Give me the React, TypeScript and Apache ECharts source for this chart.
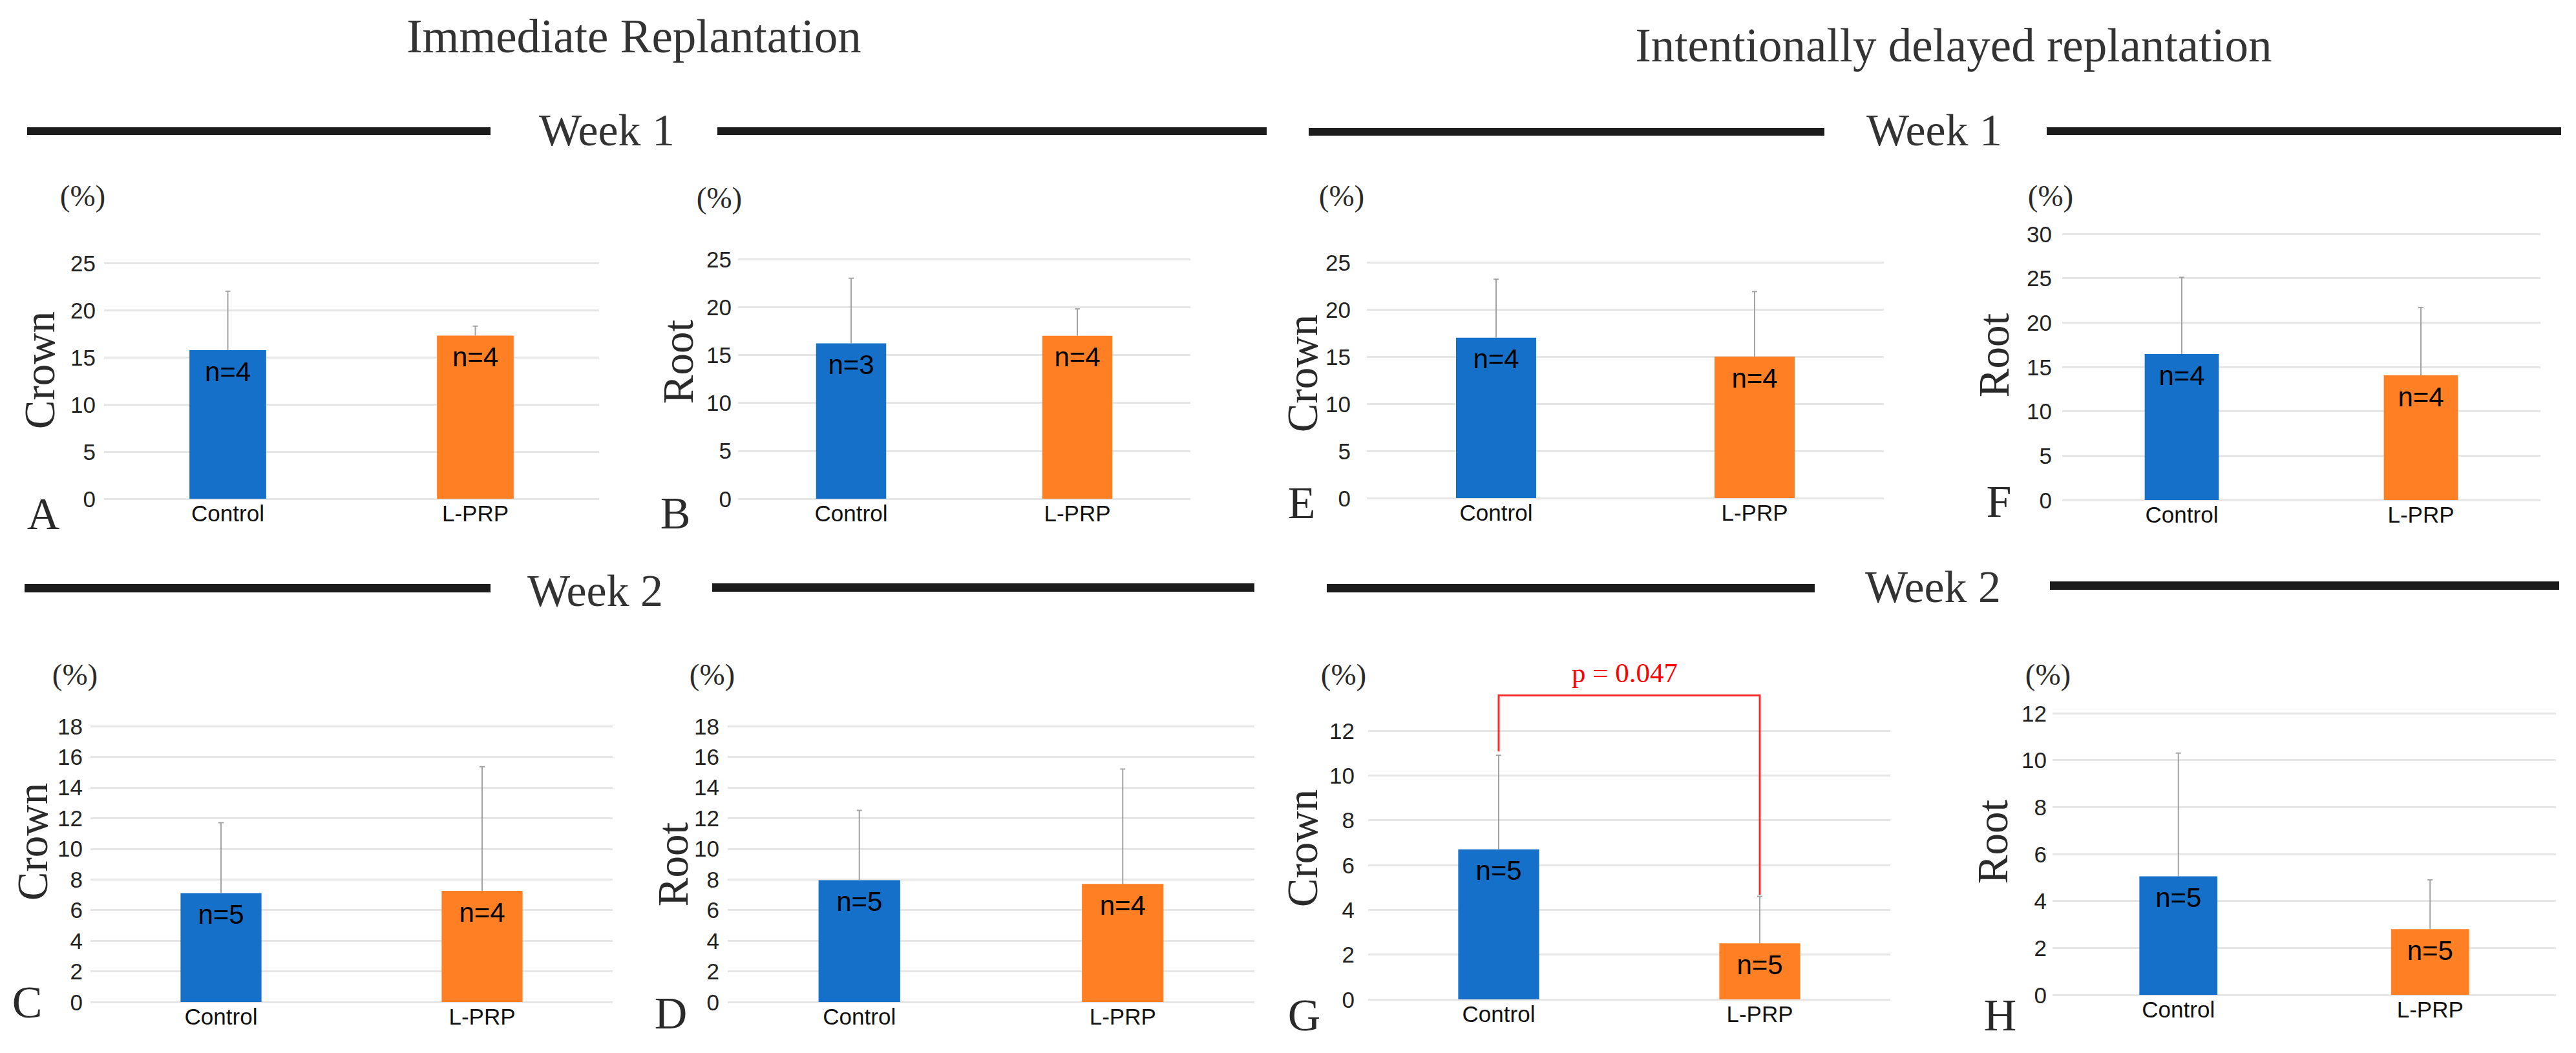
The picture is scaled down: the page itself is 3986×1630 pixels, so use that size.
import React, { useEffect, useRef } from 'react';
import * as echarts from 'echarts';

// ---------- data ----------
const categories = ['Control', 'L-PRP'];
const panelLetters = ['A', 'B', 'E', 'F', 'C', 'D', 'G', 'H'];
const panelAxisNames = ['Crown', 'Root', 'Crown', 'Root', 'Crown', 'Root', 'Crown', 'Root'];
const yMaxes = [25, 25, 25, 30, 18, 18, 12, 12];
const yIntervals = [5, 5, 5, 5, 2, 2, 2, 2];

// means (bar heights) per panel [Control, L-PRP]
const meansA = [15.75, 17.3];
const meansB = [16.2, 17.0];
const meansE = [17.0, 15.0];
const meansF = [16.45, 14.05];
const meansC = [7.1, 7.25];
const meansD = [7.95, 7.7];
const meansG = [6.7, 2.5];
const meansH = [5.05, 2.8];

// upper ends of error bars
const upperA = [22.0, 18.3];
const upperB = [23.0, 19.8];
const upperE = [23.2, 21.9];
const upperF = [25.1, 21.7];
const upperC = [11.7, 15.35];
const upperD = [12.5, 15.2];
const upperG = [10.9, 4.6];
const upperH = [10.3, 4.9];

// sample sizes
const nA = [4, 4];
const nB = [3, 4];
const nE = [4, 4];
const nF = [4, 4];
const nC = [5, 4];
const nD = [5, 4];
const nG = [5, 5];
const nH = [5, 5];

// significance bracket in panel G: [control end, top level, L-PRP end]
const bracketG = [11.07, 13.57, 4.67];
const pValueText = 'p = 0.047';

const sectionTitles = ['Immediate Replantation', 'Intentionally delayed replantation'];
const weekTitles = ['Week 1', 'Week 2'];

const panelMeans = [meansA, meansB, meansE, meansF, meansC, meansD, meansG, meansH];
const panelUppers = [upperA, upperB, upperE, upperF, upperC, upperD, upperG, upperH];
const panelNs = [nA, nB, nE, nF, nC, nD, nG, nH];

// ---------- layout ----------
// grid rects: [left, top, right, bottom]
const gridRects = [
  [161, 407, 927, 772],
  [1142, 401, 1842, 772],
  [2115, 406, 2915, 771],
  [3191, 362, 3931, 774],
  [140, 1124, 948, 1551],
  [1126, 1124, 1941, 1551],
  [2117, 1131, 2925, 1547],
  [3176, 1104, 3955, 1540],
];
const labelMargins = [13, 10, 25, 16, 12, 13, 21, 9];
const axisNamePos = [
  [61, 573], [1049, 560], [2015, 578], [3085, 550],
  [50, 1303], [1041, 1338], [2015, 1313], [3083, 1303],
];
const letterPos = [
  [67, 795], [1045, 794], [2014, 778], [3093, 776],
  [42, 1551], [1038, 1568], [2018, 1571], [3095, 1571],
];
const percentPos = [
  [128, 303], [1113, 306], [2076, 303], [3173, 303],
  [116, 1044], [1102, 1044], [2079, 1044], [3169, 1044],
];
const titlePos = [[981, 56], [3023, 70]];
const weekPos = [[939, 201], [2993, 201], [921, 914], [2991, 908]];
const weekLines = [
  [42, 197, 759, 12], [1110, 197, 1960, 12],
  [2025, 198, 2823, 12], [3167, 197, 3963, 12],
  [38, 904, 759, 13], [1102, 903, 1941, 13],
  [2053, 904, 2808, 13], [3172, 900, 3960, 13],
];

const BLUE = '#1570C9';
const ORANGE = '#FE7F24';
const SERIF = '"Liberation Serif", "Times New Roman", serif';
const SANS = '"Liberation Sans", Arial, sans-serif';

function buildOption() {
  const grid: any[] = [];
  const xAxis: any[] = [];
  const yAxis: any[] = [];
  const series: any[] = [];

  gridRects.forEach((r, i) => {
    grid.push({ left: r[0], top: r[1], width: r[2] - r[0], height: r[3] - r[1], containLabel: false });
    xAxis.push({
      type: 'category',
      gridIndex: i,
      data: categories,
      axisLine: { show: false },
      axisTick: { show: false },
      axisLabel: { fontSize: 35, color: '#111', fontFamily: SANS, margin: 5 },
    });
    yAxis.push({
      type: 'value',
      gridIndex: i,
      min: 0,
      max: yMaxes[i],
      interval: yIntervals[i],
      axisLine: { show: false },
      axisTick: { show: false },
      axisLabel: { fontSize: 35, color: '#222', fontFamily: SANS, margin: labelMargins[i] },
      splitLine: { lineStyle: { color: '#e6e6e6', width: 3 } },
    });
    const ns = panelNs[i];
    series.push({
      type: 'bar',
      xAxisIndex: i,
      yAxisIndex: i,
      barWidth: '31%',
      data: panelMeans[i].map((v, j) => ({ value: v, itemStyle: { color: j === 0 ? BLUE : ORANGE } })),
      label: {
        show: true,
        position: 'insideTop',
        distance: 12,
        formatter: (p: any) => 'n=' + ns[p.dataIndex],
        fontSize: 42,
        color: '#000',
        fontFamily: SANS,
      },
      z: 2,
    });
    const means = panelMeans[i];
    const uppers = panelUppers[i];
    series.push({
      type: 'custom',
      xAxisIndex: i,
      yAxisIndex: i,
      data: categories.map((c, j) => [j, means[j], uppers[j]]),
      encode: { x: 0, y: [1, 2] },
      renderItem: (params: any, api: any) => {
        const x = api.value(0);
        const p0 = api.coord([x, api.value(1)]);
        const p1 = api.coord([x, api.value(2)]);
        const st = { stroke: '#a3a3a3', lineWidth: 2 };
        return {
          type: 'group',
          children: [
            { type: 'line', shape: { x1: p0[0], y1: p0[1], x2: p1[0], y2: p1[1] }, style: st },
            { type: 'line', shape: { x1: p1[0] - 4, y1: p1[1], x2: p1[0] + 4, y2: p1[1] }, style: st },
          ],
        };
      },
      z: 3,
    });
  });

  // significance bracket on panel G (index 6)
  series.push({
    type: 'custom',
    xAxisIndex: 6,
    yAxisIndex: 6,
    clip: false,
    data: [[0, 1, bracketG[0], bracketG[1], bracketG[2]]],
    encode: { x: [0, 1], y: [2, 3, 4] },
    renderItem: (params: any, api: any) => {
      const a = api.coord([api.value(0), api.value(2)]);
      const b = api.coord([api.value(0), api.value(3)]);
      const c = api.coord([api.value(1), api.value(3)]);
      const d = api.coord([api.value(1), api.value(4)]);
      return {
        type: 'group',
        children: [
          {
            type: 'polyline',
            shape: { points: [a, b, c, d] },
            style: { stroke: '#ff2a2a', lineWidth: 3, fill: 'none' },
          },
          {
            type: 'text',
            style: {
              x: (b[0] + c[0]) / 2 - 7,
              y: b[1] - 35,
              text: pValueText,
              fill: '#ff0000',
              font: '43px ' + SERIF,
              align: 'center',
              verticalAlign: 'middle',
            },
          },
        ],
      };
    },
    z: 4,
  });

  const graphic: any[] = [];
  sectionTitles.forEach((t, i) => {
    graphic.push({
      type: 'text',
      x: titlePos[i][0],
      y: titlePos[i][1],
      style: { text: t, font: '73px ' + SERIF, fill: '#333', align: 'center', verticalAlign: 'middle' },
    });
  });
  weekPos.forEach((p, i) => {
    graphic.push({
      type: 'text',
      x: p[0],
      y: p[1],
      style: { text: weekTitles[i < 2 ? 0 : 1], font: '70px ' + SERIF, fill: '#333', align: 'center', verticalAlign: 'middle' },
    });
  });
  weekLines.forEach((l) => {
    graphic.push({
      type: 'rect',
      shape: { x: l[0], y: l[1], width: l[2] - l[0], height: l[3] },
      style: { fill: '#1c1c1c' },
    });
  });
  panelLetters.forEach((t, i) => {
    graphic.push({
      type: 'text',
      x: letterPos[i][0],
      y: letterPos[i][1],
      style: { text: t, font: '70px ' + SERIF, fill: '#2a2a2a', align: 'center', verticalAlign: 'middle' },
    });
    graphic.push({
      type: 'text',
      x: axisNamePos[i][0],
      y: axisNamePos[i][1],
      rotation: Math.PI / 2,
      style: { text: panelAxisNames[i], font: '67px ' + SERIF, fill: '#2a2a2a', align: 'center', verticalAlign: 'middle' },
    });
    graphic.push({
      type: 'text',
      x: percentPos[i][0],
      y: percentPos[i][1],
      style: { text: '(%)', font: '47px ' + SERIF, fill: '#2a2a2a', align: 'center', verticalAlign: 'middle' },
    });
  });

  return {
    animation: false,
    backgroundColor: '#ffffff',
    grid,
    xAxis,
    yAxis,
    series,
    graphic,
  };
}

export default function App() {
  const ref = useRef<HTMLDivElement>(null);
  useEffect(() => {
    if (!ref.current) return;
    const chart = echarts.init(ref.current, undefined, { renderer: 'svg' });
    chart.setOption(buildOption());
    return () => chart.dispose();
  }, []);
  return (
    <div
      ref={ref}
      style={{ position: 'absolute', left: 0, top: 0, width: 3986, height: 1630, background: '#fff' }}
    />
  );
}
